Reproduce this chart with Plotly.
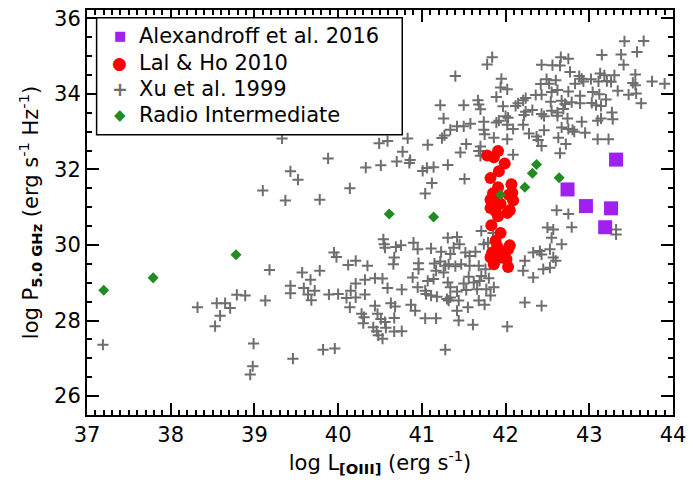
import plotly.graph_objects as go

# ---------------- data ----------------
alex_logL = [43.32, 42.74, 42.96, 43.26, 43.19]
alex_logP = [32.26, 31.47, 31.03, 30.97, 30.47]

lal_logL = [41.78, 41.86, 41.91, 41.99, 41.92, 41.82, 42.07, 41.91, 41.85, 42.04,
            42.08, 42.09, 41.82, 41.89, 41.94, 41.82, 41.88, 41.91, 42.02, 42.05,
            41.83, 41.94, 41.88, 41.90, 42.05, 42.03, 41.84, 41.96, 42.01, 41.82,
            41.86, 42.03, 41.94]
lal_logP = [32.37, 32.32, 32.49, 32.16, 31.95, 31.77, 31.61, 31.53, 31.37, 31.33,
            31.38, 31.18, 31.20, 31.14, 31.09, 30.98, 30.89, 30.76, 30.85, 30.92,
            30.52, 30.32, 30.11, 29.97, 29.99, 29.89, 29.80, 29.75, 29.62, 29.67,
            29.49, 29.42, 29.67]

ri_logL = [37.20, 37.79, 38.78, 40.61, 41.14, 41.94, 42.23, 42.32, 42.37, 42.64]
ri_logP = [28.80, 29.13, 29.74, 30.82, 30.74, 31.33, 31.53, 31.90, 32.13, 31.78]

xu_logL = [
    43.42, 43.65, 41.84, 41.78, 42.66, 42.75, 43.15, 43.38, 43.57, 42.43,
    42.56, 42.65, 42.77, 43.41, 41.40, 41.95, 42.88, 42.91, 42.93, 43.13,
    43.18, 43.30, 43.55, 42.49, 42.60, 42.42, 42.52, 42.83, 43.02, 43.11,
    43.21, 43.26, 43.52, 43.55, 43.75, 43.90, 41.94, 42.02, 41.89, 41.67,
    42.24, 42.21, 42.15, 42.36, 42.43, 42.55, 42.62, 42.75, 42.89, 43.04,
    43.12, 43.34, 43.47, 43.56, 43.62, 41.22, 41.50, 41.68, 41.70, 41.97,
    42.12, 42.24, 42.32, 42.54, 42.67, 42.71, 42.69, 42.62, 42.79, 42.89,
    43.03, 43.08, 43.14, 43.20, 43.27, 43.28, 43.14, 43.10, 41.26, 41.42,
    41.50, 41.58, 41.74, 41.92, 42.03, 42.02, 42.22, 42.21, 42.43, 42.46,
    42.55, 42.62, 42.74, 42.75, 42.80, 42.91, 42.95, 41.24, 41.27, 41.34,
    41.74, 41.75, 41.89, 42.09, 41.86, 42.02, 42.28, 42.37, 42.39, 42.43,
    42.46, 42.63, 42.67, 42.82, 43.10, 43.23, 41.53, 41.70, 41.68, 41.70,
    41.46, 41.31, 42.09, 42.65, 42.72, 41.51, 42.00,
    40.54, 40.55, 40.56, 40.69, 40.75, 40.90, 40.95, 41.11, 41.23, 41.31,
    41.42, 41.38, 41.45, 41.34, 41.52, 41.57, 41.64, 41.71, 41.74, 41.79,
    41.85, 39.95, 39.98, 40.12, 40.21, 40.35, 40.67, 40.66, 40.96, 40.96,
    41.15, 41.22, 41.28, 41.32, 41.40, 41.47, 41.57, 41.68, 41.76, 41.26,
    41.17, 39.57, 39.67, 39.78, 39.43, 39.43, 39.59, 39.64, 39.68, 39.72,
    39.89, 40.00, 40.10, 40.15, 40.21, 40.21, 40.14, 40.32, 40.44, 40.53,
    40.32, 40.59, 40.76, 40.89, 40.95, 41.04, 41.07, 41.14, 41.11, 41.05,
    41.18, 41.31, 41.34, 41.42, 41.44, 41.53, 41.50, 41.56, 41.62, 41.66,
    41.69, 41.71, 41.80, 41.77, 41.86, 41.82, 41.68, 41.75, 40.44, 40.63,
    40.68, 40.87, 40.92, 41.30, 41.34, 41.32, 41.42, 41.55, 40.28, 40.31,
    40.30, 40.47, 40.51, 40.56, 40.67, 41.04, 41.17, 41.44, 41.61, 40.42,
    40.46, 40.48, 40.53, 40.57, 40.67, 40.76, 39.82, 39.96, 41.28, 39.78,
    39.33, 39.43, 39.52, 39.10, 39.37, 39.18, 38.79, 38.89, 39.13, 38.32,
    38.55, 38.65, 38.71, 38.59, 38.53, 37.19, 38.99, 38.98, 38.95, 39.46,
    40.49, 40.59, 40.83, 40.77, 40.86, 40.85, 40.70, 40.51, 41.01, 41.06,
    41.14, 41.12, 41.04, 41.07, 42.61, 42.75, 42.79, 42.50, 42.57, 43.32,
    43.32,
    42.55, 42.67, 42.33, 42.41, 42.43, 42.53, 42.57, 42.60, 42.23, 42.45,
    42.53, 42.21, 42.33, 42.23, 42.43, 42.02,
    40.48, 40.29, 40.05, 40.63, 39.88, 40.33, 40.14,
]
xu_logP = [
    35.39, 35.40, 34.97, 34.78, 34.97, 34.93, 35.03, 35.04, 35.11, 34.77,
    34.76, 34.75, 34.58, 34.77, 34.47, 34.40, 34.47, 34.40, 34.33, 34.54,
    34.49, 34.49, 34.51, 34.39, 34.36, 34.26, 34.27, 34.27, 34.39, 34.33,
    34.34, 34.32, 34.29, 34.23, 34.33, 34.27, 34.17, 34.12, 33.92, 33.83,
    33.89, 33.83, 33.75, 33.97, 33.98, 34.05, 34.10, 34.06, 33.95, 34.05,
    33.99, 34.08, 33.98, 34.01, 33.75, 33.70, 33.70, 33.72, 33.59, 33.67,
    33.68, 33.53, 33.57, 33.79, 33.82, 33.73, 33.60, 33.51, 33.78, 33.75,
    33.76, 33.70, 33.68, 33.85, 33.51, 33.33, 33.35, 33.29, 33.35, 33.14,
    33.14, 33.21, 33.26, 33.29, 33.37, 33.18, 33.44, 33.18, 33.47, 33.41,
    33.55, 33.42, 33.35, 33.07, 33.05, 33.26, 32.97, 32.83, 32.90, 33.05,
    33.05, 32.93, 33.24, 33.07, 32.84, 32.80, 32.95, 32.87, 32.78, 32.62,
    33.04, 32.84, 33.11, 33.00, 32.80, 32.80, 32.67, 32.61, 32.49, 32.36,
    32.45, 32.12, 32.39, 32.43, 32.67, 31.75, 33.41,
    30.15, 30.02, 29.93, 29.95, 29.99, 30.06, 29.89, 29.91, 29.82, 30.19,
    30.21, 29.93, 30.02, 29.76, 29.80, 29.71, 29.82, 30.37, 30.02, 30.06,
    30.32, 29.80, 29.68, 29.47, 29.58, 29.45, 29.67, 29.49, 29.52, 29.36,
    29.51, 29.56, 29.45, 29.49, 29.44, 29.49, 29.45, 29.45, 29.36, 29.27,
    29.32, 29.27, 29.08, 29.32, 28.92, 28.72, 28.86, 28.69, 28.54, 28.79,
    28.69, 28.70, 28.60, 28.79, 28.98, 28.61, 28.35, 29.08, 29.12, 29.11,
    28.69, 28.86, 28.82, 29.14, 28.88, 28.79, 29.05, 29.10, 28.66, 28.70,
    28.63, 29.01, 28.88, 28.77, 28.53, 28.81, 28.98, 29.16, 29.01, 28.83,
    29.05, 29.18, 29.12, 28.83, 28.88, 28.66, 28.53, 28.42, 28.39, 28.46,
    28.37, 28.42, 28.26, 28.57, 28.61, 28.53, 28.26, 28.35, 28.18, 28.09,
    27.93, 28.18, 28.04, 27.96, 28.07, 28.06, 28.06, 28.00, 27.89, 27.82,
    27.72, 27.61, 27.52, 27.81, 27.71, 27.72, 27.23, 27.26, 27.23, 31.20,
    32.82, 31.95, 31.73, 31.44, 31.18, 29.34, 28.68, 28.66, 28.53, 28.35,
    28.46, 28.46, 28.33, 28.13, 27.85, 27.36, 27.39, 26.79, 26.57, 26.99,
    32.69, 32.75, 32.82, 32.47, 32.25, 32.17, 32.21, 32.11, 31.96, 32.04,
    32.06, 31.64, 31.36, 32.65, 30.92, 30.82, 30.47, 30.46, 30.41, 30.41,
    30.28,
    30.19, 30.02, 29.80, 29.84, 29.75, 29.89, 29.67, 29.58, 29.58, 29.36,
    29.40, 29.32, 29.14, 28.48, 28.39, 27.84,
    34.07, 33.29, 33.11, 33.16, 32.29, 32.05, 31.50,
]

x_ticks = [37, 38, 39, 40, 41, 42, 43, 44]
y_ticks = [26, 28, 30, 32, 34, 36]

legend_labels = ["Alexandroff et al. 2016", "Lal &amp; Ho 2010",
                 "Xu et al. 1999", "Radio Intermediate"]
legend_glyphs = ["\u25A0", "\u25CF", "<b>+</b>", "\u25C6"]

FONT = "DejaVu Sans"
C_ALEX, C_LAL, C_XU, C_RI = "#a020f0", "#ff0000", "#6e6e6e", "#228b22"
legend_colors = [C_ALEX, C_LAL, C_XU, C_RI]

fig = go.Figure()
fig.add_trace(go.Scatter(
    x=xu_logL, y=xu_logP, mode="markers", name="Xu et al. 1999",
    marker=dict(symbol="cross-thin", size=8, color=C_XU,
                line=dict(width=2, color=C_XU))))
fig.add_trace(go.Scatter(
    x=lal_logL, y=lal_logP, mode="markers", name="Lal & Ho 2010",
    marker=dict(symbol="circle", size=12, color=C_LAL, line=dict(width=0))))
fig.add_trace(go.Scatter(
    x=ri_logL, y=ri_logP, mode="markers", name="Radio Intermediate",
    marker=dict(symbol="diamond", size=8.5, color=C_RI, line=dict(width=0))))
fig.add_trace(go.Scatter(
    x=alex_logL, y=alex_logP, mode="markers", name="Alexandroff et al. 2016",
    marker=dict(symbol="square", size=14, color=C_ALEX, line=dict(width=0))))

axis_common = dict(
    showline=True, linecolor="black", linewidth=2, mirror="allticks",
    ticks="inside", ticklen=12, tickwidth=2, tickcolor="black",
    showgrid=False, zeroline=False,
    tickfont=dict(family=FONT, size=21, color="black"),
)

fig.update_xaxes(
    range=[37, 44], tickvals=x_ticks, ticktext=[str(v) for v in x_ticks],
    minor=dict(dtick=0.1, ticklen=5, tickwidth=1.5, tickcolor="black", ticks="inside"),
    title=dict(text="log L<sub><b>[OIII]</b></sub> (erg s<sup>-1</sup>)",
               font=dict(family=FONT, size=21, color="black"), standoff=8),
    **axis_common)
fig.update_yaxes(
    range=[25.5, 36.22], tickvals=y_ticks, ticktext=[str(v) for v in y_ticks],
    minor=dict(dtick=0.5, ticklen=5, tickwidth=1.5, tickcolor="black", ticks="inside"),
    title=dict(text="log P<sub><b>5.0 GHz</b></sub> (erg s<sup>-1</sup> Hz<sup>-1</sup>)",
               font=dict(family=FONT, size=21, color="black"), standoff=10),
    **axis_common)

# ---- legend box drawn as shapes/annotations (paper coordinates) ----
box_x0, box_x1, box_y0, box_y1 = 0.0164, 0.538, 0.692, 0.981
row_y = [0.936, 0.870, 0.805, 0.740]
glyph_x, text_x = 0.0558, 0.0846
glyph_sizes = [13, 17, 19, 15]

shapes = [dict(type="rect", xref="paper", yref="paper",
               x0=box_x0, x1=box_x1, y0=box_y0, y1=box_y1,
               line=dict(color="black", width=1.5), fillcolor="white", layer="above")]
annotations = []
for lab, gl, col, gs, ry in zip(legend_labels, legend_glyphs, legend_colors, glyph_sizes, row_y):
    annotations.append(dict(xref="paper", yref="paper", x=glyph_x, y=ry, text=gl,
                            showarrow=False, xanchor="center", yanchor="middle",
                            font=dict(family=FONT, size=gs, color=col)))
    annotations.append(dict(xref="paper", yref="paper", x=text_x, y=ry, text=lab,
                            showarrow=False, xanchor="left", yanchor="middle",
                            font=dict(family=FONT, size=21, color="black")))

fig.update_layout(
    width=693, height=487,
    margin=dict(l=87, r=15, t=7, b=72),
    paper_bgcolor="white", plot_bgcolor="white",
    font=dict(family=FONT, color="black"),
    showlegend=False,
    shapes=shapes, annotations=annotations,
)

fig.write_html("out.html")
